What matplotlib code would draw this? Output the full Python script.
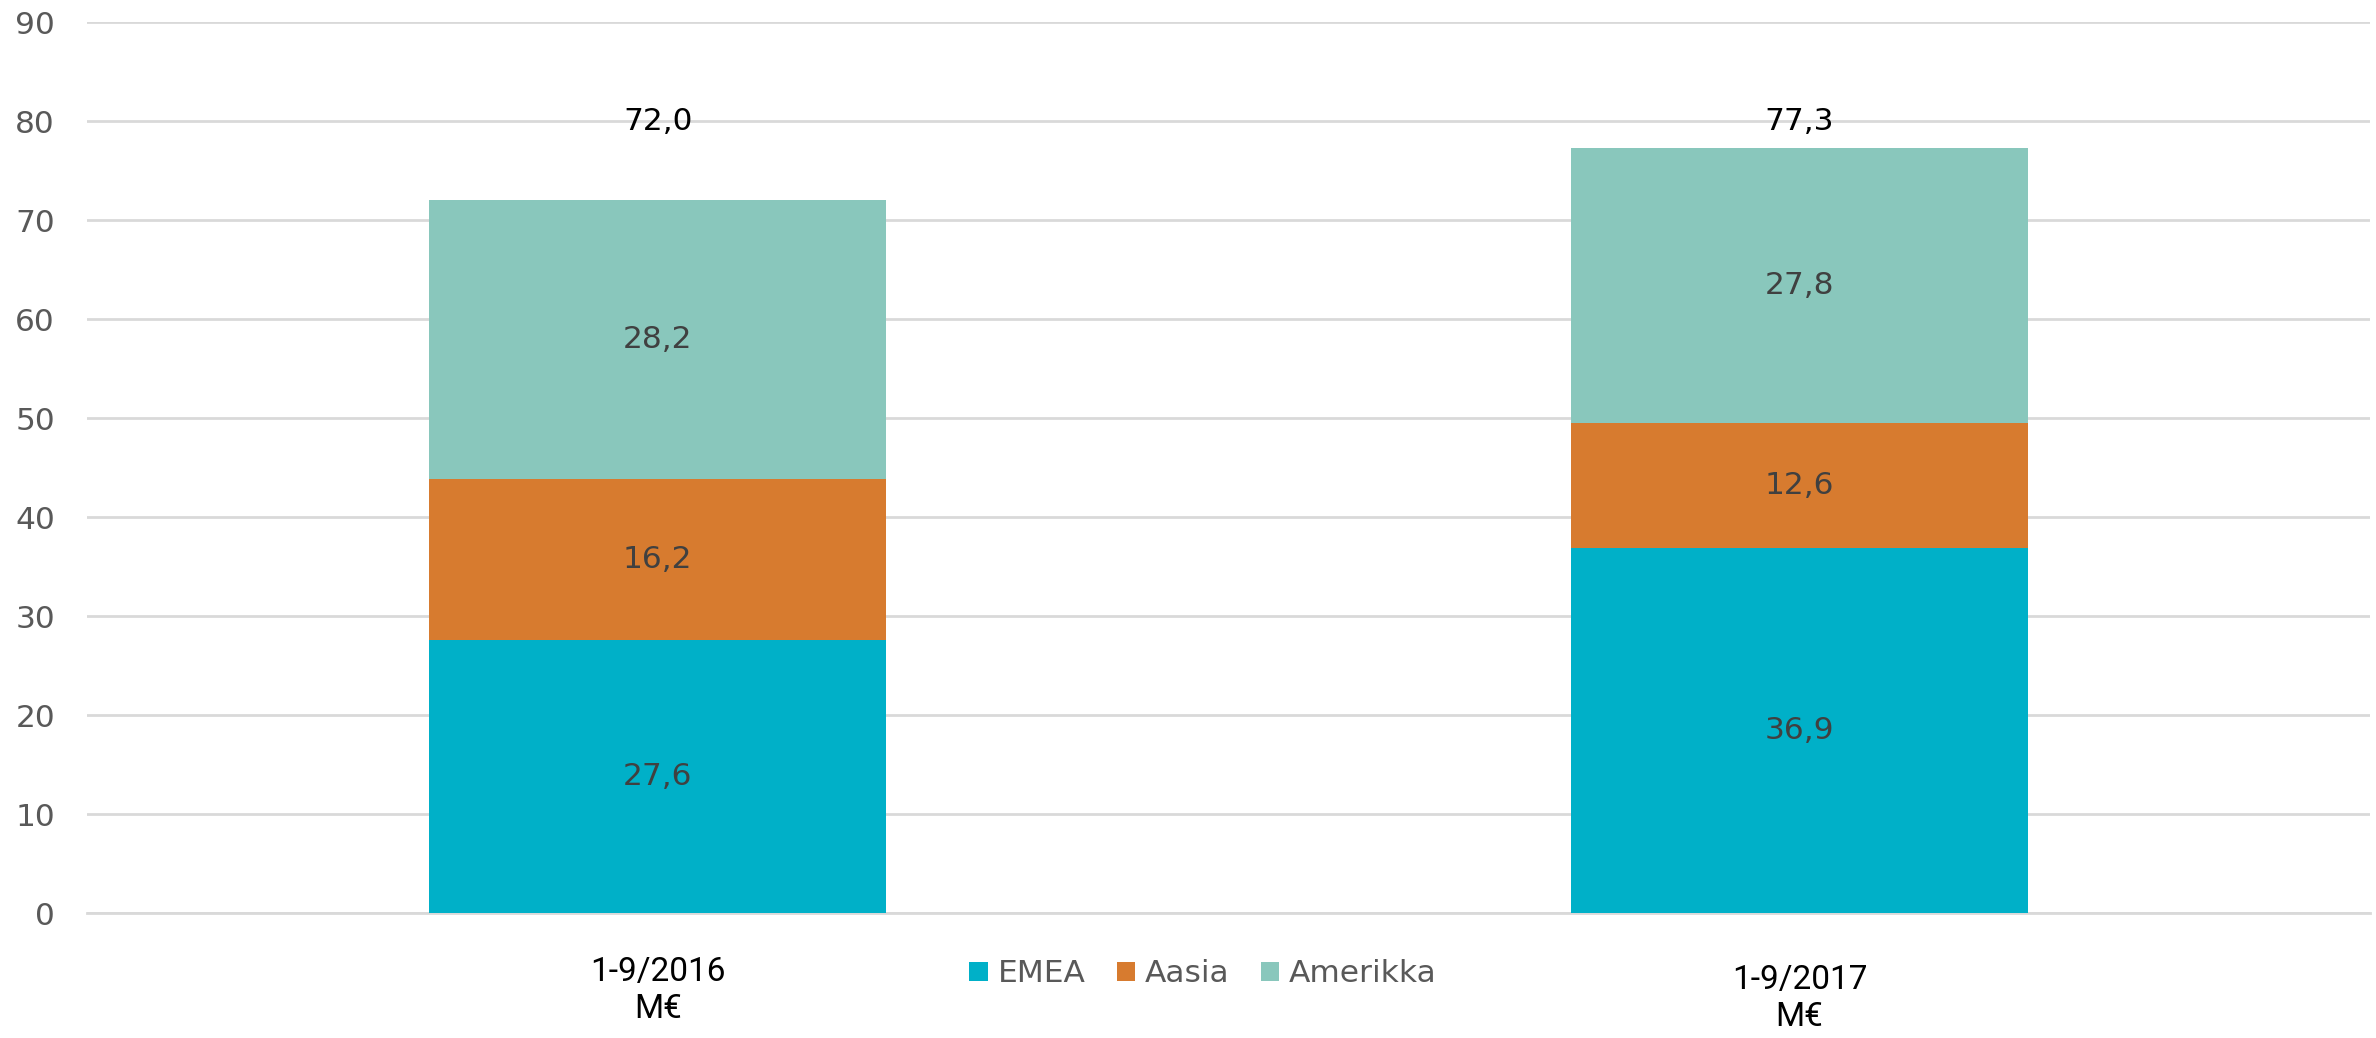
import matplotlib
matplotlib.use("Agg")
from matplotlib import pyplot as plt
from matplotlib.patches import Patch

# Data
categories = ["1-9/2016\nM€", "1-9/2017\nM€"]
series_names = ["EMEA", "Aasia", "Amerikka"]
emea = [27.6, 36.9]
aasia = [16.2, 12.6]
amerikka = [28.2, 27.8]
totals = [72.0, 77.3]

colors = ["#00B0C8", "#D77B2F", "#89C7BC"]
FS = 22.5


def fmt(v):
    return f"{v:.1f}".replace(".", ",")


fig = plt.figure(figsize=(23.76, 10.38), dpi=100)
ax = fig.add_axes([0.0366, 0.1204, 0.961, 0.8584])

x = list(range(len(categories)))
bottom = [0.0] * len(x)
for name, vals, col in zip(series_names, [emea, aasia, amerikka], colors):
    bars = ax.bar(x, vals, width=0.4, bottom=bottom, color=col, label=name, zorder=2)
    ax.bar_label(bars, labels=[fmt(v) for v in vals], label_type="center",
                 fontsize=FS, color="#404040")
    bottom = [b + v for b, v in zip(bottom, vals)]

# totals above the stacks
for i, t in enumerate(totals):
    ax.text(i, 80, fmt(t), ha="center", va="center", fontsize=FS, color="black")

ax.set_xlim(-0.5, 1.5)
ax.set_ylim(0, 90)
ax.set_yticks(range(0, 91, 10))
ax.yaxis.grid(True, color="#D9D9D9", linewidth=2, zorder=0)
ax.axhline(0, color="#D9D9D9", linewidth=2, zorder=1, clip_on=False)
ax.set_axisbelow(True)
for s in ax.spines.values():
    s.set_visible(False)
ax.tick_params(axis="y", length=0, pad=23, labelsize=FS, labelcolor="#595959")

ax.set_xticks(x)
ax.set_xticklabels(categories, fontsize=24, color="black",
                   family=["Roboto", "DejaVu Sans"], linespacing=1.2)
ax.tick_params(axis="x", length=0, pad=31)
ax.xaxis.get_major_ticks()[1].set_pad(37)

handles = [Patch(facecolor=c, edgecolor="none", label=n) for c, n in zip(colors, series_names)]
leg = ax.legend(handles=handles, loc="center", bbox_to_anchor=(1203 / 2376, 1 - 974 / 1038),
                bbox_transform=fig.transFigure, ncol=3, frameon=False, fontsize=FS,
                handlelength=0.6, handleheight=0.6, handletextpad=0.3, columnspacing=1.0)
for t in leg.get_texts():
    t.set_color("#595959")

fig.savefig("out.png", dpi=100)
